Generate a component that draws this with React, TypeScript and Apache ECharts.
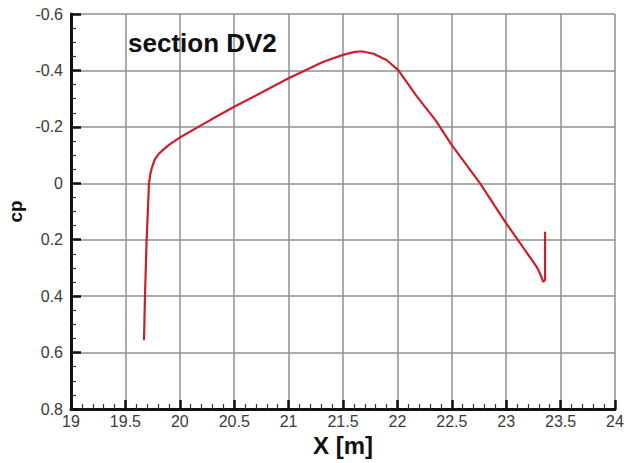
import React, { useEffect, useRef } from "react";
import * as echarts from "echarts";

const xValues = [19.671, 19.68, 19.695, 19.717, 19.728, 19.742, 19.77, 19.81, 19.9, 20.0, 20.28, 20.5, 21.0, 21.32, 21.5, 21.6, 21.67, 21.78, 21.9, 22.01, 22.18, 22.35, 22.5, 22.76, 23.0, 23.28, 23.31, 23.34, 23.357, 23.357];
const cpValues = [0.556, 0.4, 0.2, 0.0, -0.03, -0.053, -0.085, -0.106, -0.136, -0.162, -0.224, -0.271, -0.372, -0.431, -0.455, -0.465, -0.468, -0.459, -0.437, -0.4, -0.307, -0.224, -0.135, 0.0, 0.142, 0.296, 0.319, 0.349, 0.343, 0.172];

const xTicks = { min: 19, max: 24, interval: 0.5 };
const yTicks = { min: -0.6, max: 0.8, interval: 0.2 };
const titleText = "section DV2";
const xName = "X [m]";
const yName = "cp";

export default function App() {
  const ref = useRef<HTMLDivElement>(null);
  useEffect(() => {
    if (!ref.current) return;
    const chart = echarts.init(ref.current, null, { renderer: "svg" });
    const grid = "#8f8f8f";
    const labelFont = { color: "#3a3a3a", fontSize: 16, fontFamily: "Liberation Sans, Arial, sans-serif" };
    chart.setOption({
      animation: false,
      backgroundColor: "#fff",
      grid: { left: 71, right: 20, top: 14, bottom: 54, outerBoundsMode: "none", containLabel: false },
      title: {
        text: titleText,
        left: 123,
        top: 25,
        textStyle: { fontSize: 26, fontWeight: "bold", color: "#111", fontFamily: "Liberation Sans, Arial, sans-serif" },
      },
      xAxis: {
        type: "value",
        min: xTicks.min,
        max: xTicks.max,
        interval: xTicks.interval,
        name: xName,
        nameLocation: "middle",
        nameGap: 22,
        nameTextStyle: { fontSize: 24, fontWeight: "bold", color: "#111", fontFamily: "Liberation Sans, Arial, sans-serif" },
        axisLine: { onZero: false, lineStyle: { color: "#111", width: 3 } },
        axisTick: { inside: true, length: 9, lineStyle: { color: "#111", width: 2.5 } },
        minorTick: { show: true, splitNumber: 5, length: 5, lineStyle: { color: "#333", width: 1.2 } },
        axisLabel: { ...labelFont, margin: 4 },
        splitLine: { show: true, lineStyle: { color: grid, width: 1.5 } },
      },
      yAxis: {
        type: "value",
        inverse: true,
        min: yTicks.min,
        max: yTicks.max,
        interval: yTicks.interval,
        name: yName,
        nameLocation: "middle",
        nameGap: 41,
        nameTextStyle: { fontSize: 19, fontWeight: "bold", color: "#111", fontFamily: "Liberation Sans, Arial, sans-serif" },
        axisLine: { show: true, onZero: false, lineStyle: { color: "#111", width: 3 } },
        axisTick: { show: true, inside: true, length: 10, lineStyle: { color: "#111", width: 2.5 } },
        minorTick: { show: true, splitNumber: 4, length: 5, lineStyle: { color: "#333", width: 1.2 } },
        axisLabel: { ...labelFont, margin: 8, formatter: (v: number) => String(Math.round(v * 10) / 10) },
        splitLine: { show: true, lineStyle: { color: grid, width: 1.5 } },
      },
      series: [
        {
          type: "line",
          data: xValues.map((x, i) => [x, cpValues[i]]),
          showSymbol: false,
          smooth: false,
          lineStyle: { color: "#c9202b", width: 2.2 },
        },
      ],
    });
    return () => chart.dispose();
  }, []);
  return <div ref={ref} style={{ position: "fixed", left: 0, top: 0, width: 635, height: 463 }} />;
}
